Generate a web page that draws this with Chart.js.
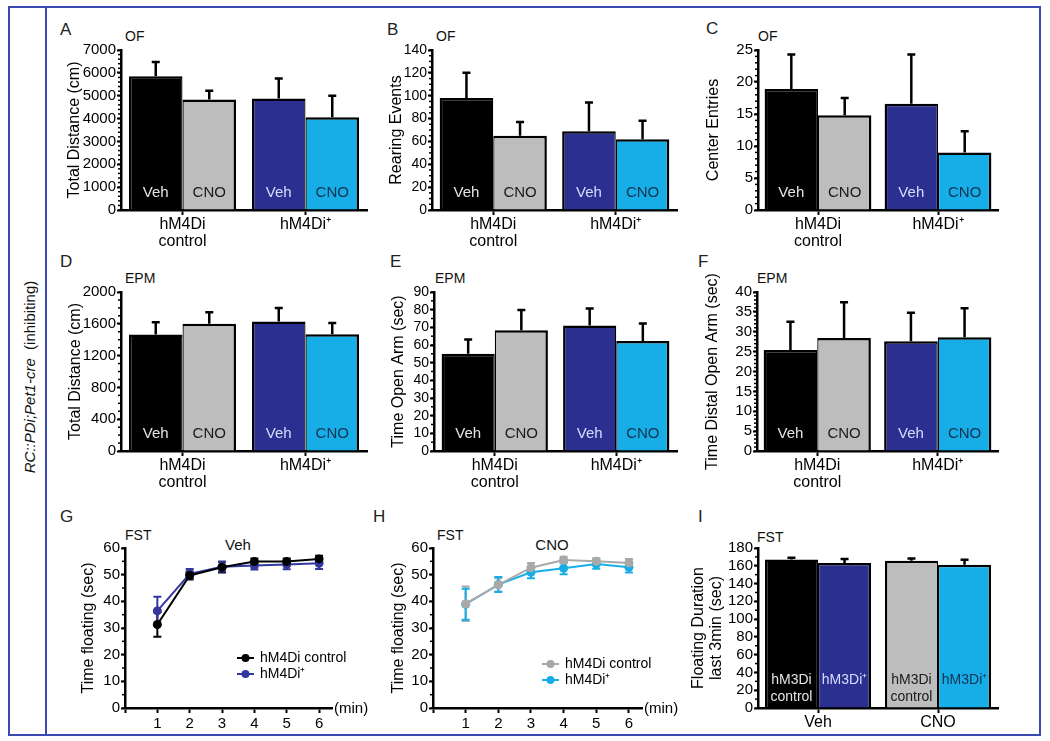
<!DOCTYPE html>
<html>
<head>
<meta charset="utf-8">
<title>RC::PDi;Pet1-cre (inhibiting)</title>
<script src="https://cdn.jsdelivr.net/npm/chart.js@4.4.1/dist/chart.umd.min.js"></script>
<style>
  body { margin: 0; background: #fff; font-family: "Liberation Sans", Arial, sans-serif; color: #111; }
  #page { position: relative; width: 1050px; height: 741px; overflow: hidden; }
  .frame { position: absolute; left: 8px; top: 6px; width: 1033px; height: 730px; border: 2px solid #3a4ab0; box-sizing: border-box; }
  .divider { position: absolute; left: 45px; top: 6px; width: 2px; height: 730px; background: #3a4ab0; }
  .side { position: absolute; left: 29px; top: 377px; transform: translate(-50%, -50%) rotate(-90deg); font-size: 15px; white-space: nowrap; }
  .letter { position: absolute; font-size: 17px; line-height: 1; color: #222; }
  .cond { position: absolute; font-size: 14px; line-height: 1; }
  .mid { transform: translateX(-50%); font-size: 15px; }
  .box { position: absolute; }
</style>
</head>
<body>
<div id="page">
  <div class="frame"></div>
  <div class="divider"></div>
  <div class="side"><i>RC::PDi;Pet1-cre</i>&nbsp; (inhibiting)</div>

  <div class="letter" style="left:60px;top:21px">A</div>
  <div class="letter" style="left:387px;top:21px">B</div>
  <div class="letter" style="left:706px;top:20px">C</div>
  <div class="letter" style="left:60px;top:253px">D</div>
  <div class="letter" style="left:390px;top:253px">E</div>
  <div class="letter" style="left:698px;top:253px">F</div>
  <div class="letter" style="left:60px;top:508px">G</div>
  <div class="letter" style="left:373px;top:508px">H</div>
  <div class="letter" style="left:698px;top:508px">I</div>

  <div class="cond" style="left:125px;top:29px">OF</div>
  <div class="cond" style="left:436px;top:29px">OF</div>
  <div class="cond" style="left:758px;top:29px">OF</div>
  <div class="cond" style="left:125px;top:271px">EPM</div>
  <div class="cond" style="left:435px;top:271px">EPM</div>
  <div class="cond" style="left:757px;top:271px">EPM</div>
  <div class="cond" style="left:125px;top:528px">FST</div>
  <div class="cond" style="left:437px;top:528px">FST</div>
  <div class="cond" style="left:757px;top:530px">FST</div>
  <div class="cond mid" style="left:238px;top:537px">Veh</div>
  <div class="cond mid" style="left:552px;top:537px">CNO</div>

  <div class="box" style="left:65px;top:38px;width:306px;height:214px"><canvas id="chartA"></canvas></div>
  <div class="box" style="left:387px;top:38px;width:294px;height:214px"><canvas id="chartB"></canvas></div>
  <div class="box" style="left:704px;top:38px;width:298px;height:214px"><canvas id="chartC"></canvas></div>
  <div class="box" style="left:66px;top:280px;width:305px;height:213px"><canvas id="chartD"></canvas></div>
  <div class="box" style="left:389px;top:280px;width:292px;height:213px"><canvas id="chartE"></canvas></div>
  <div class="box" style="left:703px;top:266px;width:299px;height:227px"><canvas id="chartF"></canvas></div>
  <div class="box" style="left:79px;top:536px;width:293px;height:198px"><canvas id="chartG"></canvas></div>
  <div class="box" style="left:389px;top:536px;width:293px;height:198px"><canvas id="chartH"></canvas></div>
  <div class="box" style="left:690px;top:536px;width:312px;height:198px"><canvas id="chartI"></canvas></div>
</div>

<script>
// categories
const dreaddGroups = [['hM4Di', 'control'], 'hM4Di⁺'];
const treatmentGroups = ['Veh', 'CNO'];
const minutes = [1, 2, 3, 4, 5, 6];

// A - open field, total distance (cm); [hM4Di control, hM4Di+]
const ofDistanceVeh = [5850, 4880];
const ofDistanceVehErr = [630, 870];
const ofDistanceCno = [4830, 4060];
const ofDistanceCnoErr = [390, 940];

// B - open field, rearing events
const ofRearingVeh = [98, 69];
const ofRearingVehErr = [22, 25];
const ofRearingCno = [65, 62];
const ofRearingCnoErr = [12, 16];

// C - open field, center entries
const ofCenterVeh = [18.9, 16.6];
const ofCenterVehErr = [5.4, 7.7];
const ofCenterCno = [14.8, 9.0];
const ofCenterCnoErr = [2.7, 3.3];

// D - EPM, total distance (cm)
const epmDistanceVeh = [1465, 1630];
const epmDistanceVehErr = [155, 170];
const epmDistanceCno = [1600, 1470];
const epmDistanceCnoErr = [145, 140];

// E - EPM, time open arm (sec)
const epmOpenVeh = [55.1, 71.1];
const epmOpenVehErr = [8, 9.6];
const epmOpenCno = [68.4, 62.2];
const epmOpenCnoErr = [11.4, 10];

// F - EPM, time distal open arm (sec)
const epmDistalVeh = [25.4, 27.6];
const epmDistalVehErr = [7.1, 7.2];
const epmDistalCno = [28.4, 28.6];
const epmDistalCnoErr = [9, 7.3];

// G - FST, Veh, time floating per minute
const fstVehControl = [31.3, 49.7, 52.8, 54.9, 54.9, 55.9];
const fstVehControlErr = [4.6, 1.5, 2, 1.2, 1.2, 1.2];
const fstVehPlus = [36.4, 50.3, 53.0, 53.4, 53.8, 54.3];
const fstVehPlusErr = [5.3, 1.8, 1.8, 1.5, 1.8, 2.2];

// H - FST, CNO, time floating per minute
const fstCnoControl = [39.1, 46.2, 52.6, 55.5, 55.0, 54.4];
const fstCnoControlErr = [6.5, 2.5, 1.8, 1.2, 1.2, 1.5];
const fstCnoPlus = [38.9, 46.3, 50.9, 52.4, 54.0, 52.8];
const fstCnoPlusErr = [5.8, 2.8, 2.2, 2.2, 1.8, 2.0];

// I - FST, floating duration last 3 min; [Veh, CNO]
const fstLast3Control = [167, 165.7];
const fstLast3ControlErr = [2, 2.5];
const fstLast3Plus = [163, 161.2];
const fstLast3PlusErr = [4.5, 5.5];

const BLACK = '#000000', GRAY = '#bdbdbd', NAVY = '#2b2f8f', CYAN = '#17aee8';
const LIGHT_TXT = '#e4e4e4', DARK_TXT = '#1a1a1a', NAVY_TXT = '#d8ddff', CYAN_TXT = '#123350';
const FONT = '"Liberation Sans", Arial, sans-serif';

Chart.defaults.font.family = FONT;
Chart.defaults.font.size = 15;
Chart.defaults.color = '#000';
Chart.defaults.animation = false;
Chart.defaults.events = [];
Chart.defaults.plugins.legend.display = false;
Chart.defaults.plugins.tooltip.enabled = false;

// error bars: up only for bars, both ways for line points
const errorBars = {
    id: 'errorBars',
    beforeDatasetsDraw(chart) {
        const ctx = chart.ctx;
        const yScale = chart.scales.y;
        chart.data.datasets.forEach((ds, i) => {
            if (!ds.err) return;
            const meta = chart.getDatasetMeta(i);
            ctx.save();
            ctx.strokeStyle = ds.borderColor || '#000';
            ctx.lineWidth = ds.bothWays ? 2 : 2.5;
            meta.data.forEach((el, j) => {
                const raw = ds.data[j];
                const val = typeof raw === 'object' ? raw.y : raw;
                const ends = [yScale.getPixelForValue(val + ds.err[j])];
                if (ds.bothWays) ends.push(yScale.getPixelForValue(val - ds.err[j]));
                ends.forEach(end => {
                    ctx.beginPath();
                    ctx.moveTo(el.x, el.y);
                    ctx.lineTo(el.x, end);
                    ctx.moveTo(el.x - 4, end);
                    ctx.lineTo(el.x + 4, end);
                    ctx.stroke();
                });
            });
            ctx.restore();
        });
    }
};

// words written at the foot of each bar
const insideText = {
    id: 'insideText',
    afterDatasetsDraw(chart, args, opts) {
        const ctx = chart.ctx;
        const bottom = chart.chartArea.bottom;
        chart.data.datasets.forEach((ds, i) => {
            if (!ds.inside) return;
            chart.getDatasetMeta(i).data.forEach((el, j) => {
                const lines = [].concat(ds.inside[j]);
                ctx.save();
                ctx.fillStyle = ds.insideColor[j];
                ctx.font = opts.size + 'px ' + FONT;
                ctx.textAlign = 'center';
                ctx.textBaseline = 'middle';
                lines.forEach((t, k) => ctx.fillText(t, el.x, bottom - opts.offset + k * 17));
                ctx.restore();
            });
        });
    }
};

// small unlabeled ticks on the y axis
const minorTicks = {
    id: 'minorTicks',
    afterDraw(chart, args, opts) {
        if (!opts.step) return;
        const y = chart.scales.y;
        const ctx = chart.ctx;
        const x0 = chart.chartArea.left;
        const n = Math.round(y.max / opts.step);
        ctx.save();
        ctx.strokeStyle = '#000';
        ctx.lineWidth = 1.5;
        for (let k = 0; k <= n; k++) {
            const py = y.getPixelForValue(k * opts.step);
            ctx.beginPath();
            ctx.moveTo(x0 - 3, py);
            ctx.lineTo(x0, py);
            ctx.stroke();
        }
        ctx.restore();
    }
};

// legend with line + dot, placed inside the plot
const lineLegend = {
    id: 'lineLegend',
    afterDatasetsDraw(chart, args, opts) {
        if (opts.x === undefined) return;
        const {ctx, chartArea} = chart;
        ctx.save();
        ctx.font = '14px ' + FONT;
        ctx.textBaseline = 'middle';
        chart.data.datasets.forEach((ds, i) => {
            const x = chartArea.left + opts.x;
            const y = chartArea.top + opts.y + i * opts.gap;
            ctx.strokeStyle = ds.borderColor;
            ctx.lineWidth = 2;
            ctx.beginPath();
            ctx.moveTo(x, y);
            ctx.lineTo(x + 17, y);
            ctx.stroke();
            ctx.fillStyle = ds.borderColor;
            ctx.beginPath();
            ctx.arc(x + 8.5, y, 4, 0, Math.PI * 2);
            ctx.fill();
            ctx.fillStyle = '#000';
            ctx.fillText(ds.label, x + 23, y);
        });
        ctx.restore();
    }
};

// unit written at the right end of the x axis
const axisUnit = {
    id: 'axisUnit',
    afterDraw(chart, args, opts) {
        if (!opts.text) return;
        const ctx = chart.ctx;
        ctx.save();
        ctx.font = '15px ' + FONT;
        ctx.fillStyle = '#000';
        ctx.textBaseline = 'middle';
        ctx.fillText(opts.text, chart.chartArea.right + 2, chart.chartArea.bottom + 1);
        ctx.restore();
    }
};

function yAxis(title, max, step, width, tickSize, titleLH) {
    return {
        min: 0,
        max: max,
        ticks: { stepSize: step, padding: 1, autoSkip: false, font: { size: tickSize || 15 }, callback: v => String(v) },
        grid: { drawOnChartArea: false, tickLength: 4, tickWidth: 2, tickColor: '#000' },
        border: { color: '#000', width: 2.5 },
        title: { display: true, text: title, padding: 0, font: { size: 16, lineHeight: titleLH || 1.2 } },
        afterFit: s => { s.width = width; }
    };
}

function catAxis(height) {
    return {
        grid: { drawOnChartArea: false, offset: false, tickLength: 5, tickWidth: 2, tickColor: '#000' },
        border: { color: '#000', width: 2.5 },
        ticks: { font: { size: 16, lineHeight: 1.05 }, padding: 1, maxRotation: 0, autoSkip: false },
        afterFit: s => { s.height = height; }
    };
}

function barPanel(id, cfg) {
    new Chart(document.getElementById(id), {
        type: 'bar',
        data: {
            labels: cfg.labels,
            datasets: [
                { data: cfg.a, err: cfg.aErr, backgroundColor: cfg.aFill, inside: cfg.aText, insideColor: cfg.aTextColor,
                  borderWidth: { top: 2.5, left: 2.5, right: 1.25, bottom: 0 } },
                { data: cfg.b, err: cfg.bErr, backgroundColor: cfg.bFill, inside: cfg.bText, insideColor: cfg.bTextColor,
                  borderWidth: { top: 2.5, left: 1.25, right: 2.5, bottom: 0 } }
            ]
        },
        options: {
            responsive: true,
            maintainAspectRatio: false,
            layout: { padding: { top: cfg.pt || 12, right: 4, left: 0, bottom: 0 } },
            datasets: { bar: { categoryPercentage: cfg.cp, barPercentage: 1, borderColor: '#000', borderSkipped: 'start' } },
            scales: {
                x: catAxis(cfg.xh || 42),
                y: yAxis(cfg.title, cfg.max, cfg.step, cfg.yw, cfg.tickSize, cfg.titleLH)
            },
            plugins: {
                minorTicks: { step: cfg.minor },
                insideText: { offset: cfg.textOffset || 17, size: cfg.textSize || 15 }
            }
        },
        plugins: [errorBars, insideText, minorTicks]
    });
}

function linePanel(id, cfg) {
    new Chart(document.getElementById(id), {
        type: 'line',
        data: {
            datasets: cfg.series.map(s => ({
                label: s.label,
                data: minutes.map((m, i) => ({ x: m, y: s.values[i] })),
                err: s.err,
                bothWays: true,
                borderColor: s.color,
                backgroundColor: s.color,
                pointBackgroundColor: s.color,
                pointBorderColor: s.color,
                pointRadius: 4.5,
                pointBorderWidth: 0,
                borderWidth: 2,
                tension: 0
            }))
        },
        options: {
            responsive: true,
            maintainAspectRatio: false,
            layout: { padding: { top: 12, right: 40, left: 0, bottom: 0 } },
            scales: {
                x: {
                    type: 'linear',
                    min: 0,
                    max: 6.4,
                    ticks: { stepSize: 1, includeBounds: false, padding: 2, font: { size: 15 },
                             callback: v => (v === 0 ? '' : String(v)) },
                    grid: { drawOnChartArea: false, tickLength: 5, tickWidth: 2, tickColor: '#000' },
                    border: { color: '#000', width: 2.5 },
                    afterFit: s => { s.height = 26; }
                },
                y: yAxis('Time floating (sec)', 60, 10, cfg.yw, 15)
            },
            plugins: {
                minorTicks: { step: 5 },
                lineLegend: cfg.legend,
                axisUnit: { text: '(min)' }
            }
        },
        plugins: [errorBars, minorTicks, lineLegend, axisUnit]
    });
}

const vehText = ['Veh', 'Veh'], cnoText = ['CNO', 'CNO'];
const vehFill = [BLACK, NAVY], cnoFill = [GRAY, CYAN];
const vehTextColor = [LIGHT_TXT, NAVY_TXT], cnoTextColor = [DARK_TXT, CYAN_TXT];

function dreaddPanel(id, veh, vehErr, cno, cnoErr, extra) {
    barPanel(id, Object.assign({
        labels: dreaddGroups,
        a: veh, aErr: vehErr, aFill: vehFill, aText: vehText, aTextColor: vehTextColor,
        b: cno, bErr: cnoErr, bFill: cnoFill, bText: cnoText, bTextColor: cnoTextColor
    }, extra));
}

dreaddPanel('chartA', ofDistanceVeh, ofDistanceVehErr, ofDistanceCno, ofDistanceCnoErr,
    { title: 'Total Distance (cm)', max: 7000, step: 1000, minor: 200, yw: 56, cp: 0.87 });
dreaddPanel('chartB', ofRearingVeh, ofRearingVehErr, ofRearingCno, ofRearingCnoErr,
    { title: 'Rearing Events', max: 140, step: 20, minor: 5, yw: 45, cp: 0.875, tickSize: 14 });
dreaddPanel('chartC', ofCenterVeh, ofCenterVehErr, ofCenterCno, ofCenterCnoErr,
    { title: 'Center Entries', max: 25, step: 5, minor: 1, yw: 54, cp: 0.89 });
dreaddPanel('chartD', epmDistanceVeh, epmDistanceVehErr, epmDistanceCno, epmDistanceCnoErr,
    { title: 'Total Distance (cm)', max: 2000, step: 400, minor: 100, yw: 55, cp: 0.87 });
dreaddPanel('chartE', epmOpenVeh, epmOpenVehErr, epmOpenCno, epmOpenCnoErr,
    { title: 'Time Open Arm (sec)', max: 90, step: 10, minor: 5, yw: 45, cp: 0.875, tickSize: 14 });
dreaddPanel('chartF', epmDistalVeh, epmDistalVehErr, epmDistalCno, epmDistalCnoErr,
    { title: 'Time Distal Open Arm (sec)', max: 40, step: 5, minor: 1, yw: 54, cp: 0.89, pt: 26 });

linePanel('chartG', {
    yw: 46,
    legend: { x: 112, y: 110, gap: 16 },
    series: [
        { label: 'hM4Di control', values: fstVehControl, err: fstVehControlErr, color: BLACK },
        { label: 'hM4Di⁺', values: fstVehPlus, err: fstVehPlusErr, color: '#3337a0' }
    ]
});
linePanel('chartH', {
    yw: 44,
    legend: { x: 109, y: 116, gap: 16 },
    series: [
        { label: 'hM4Di control', values: fstCnoControl, err: fstCnoControlErr, color: '#a9a9a9' },
        { label: 'hM4Di⁺', values: fstCnoPlus, err: fstCnoPlusErr, color: CYAN }
    ]
});

barPanel('chartI', {
    labels: treatmentGroups,
    a: fstLast3Control, aErr: fstLast3ControlErr, aFill: [BLACK, GRAY],
    aText: [['hM3Di', 'control'], ['hM3Di', 'control']], aTextColor: [LIGHT_TXT, DARK_TXT],
    b: fstLast3Plus, bErr: fstLast3PlusErr, bFill: [NAVY, CYAN],
    bText: ['hM3Di⁺', 'hM3Di⁺'], bTextColor: [NAVY_TXT, CYAN_TXT],
    title: ['Floating Duration', 'last 3min (sec)'], titleLH: 1.1,
    max: 180, step: 20, minor: 10, yw: 68, cp: 0.885, xh: 26,
    textOffset: 28, textSize: 14
});
</script>
</body>
</html>
